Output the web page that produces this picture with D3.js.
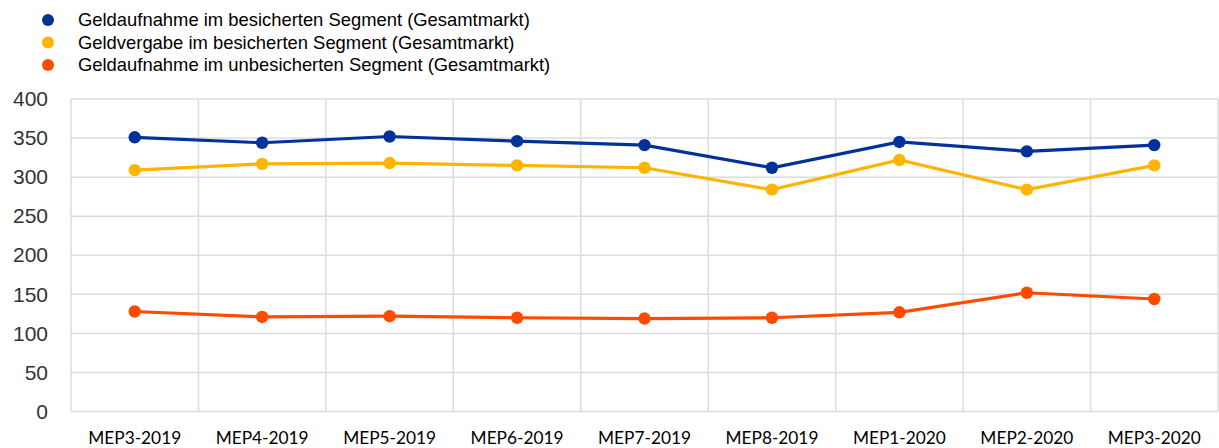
<!DOCTYPE html>
<html>
<head>
<meta charset="utf-8">
<script src="https://cdn.jsdelivr.net/npm/d3@7"></script>
<style>
  body { margin: 0; background: #fff; }
  svg { display: block; }
</style>
</head>
<body>
<script>
var width = 1219;
var height = 448;
var margin = {top: 99, right: 1, bottom: 36.5, left: 71};

// categories (x axis)
var categories = ['MEP3-2019', 'MEP4-2019', 'MEP5-2019', 'MEP6-2019', 'MEP7-2019',
                  'MEP8-2019', 'MEP1-2020', 'MEP2-2020', 'MEP3-2020'];

// series values
var securedBorrowing = [351, 344, 352, 346, 341, 312, 345, 333, 341];
var securedLending   = [309, 317, 318, 315, 312, 284, 322, 284, 315];
var unsecuredBorrowing = [128, 121, 122, 120, 119, 120, 127, 152, 144];

var seriesNames = ['Geldaufnahme im besicherten Segment (Gesamtmarkt)',
                   'Geldvergabe im besicherten Segment (Gesamtmarkt)',
                   'Geldaufnahme im unbesicherten Segment (Gesamtmarkt)'];
var seriesColors = ['#003299', '#ffb400', '#ff4b00'];

var yTicks = [0, 50, 100, 150, 200, 250, 300, 350, 400];

var series = [securedBorrowing, securedLending, unsecuredBorrowing];

var svg = d3.select('body')
  .append('svg')
  .attr('width', width)
  .attr('height', height);

var xRange = d3.scaleBand().domain(categories).range([margin.left, width - margin.right]);
var yRange = d3.scaleLinear().domain([0, 400]).range([height - margin.bottom, margin.top]);

// griglia orizzontale
svg.append('g')
  .selectAll('line')
  .data(yTicks)
  .enter()
  .append('line')
  .attr('x1', margin.left)
  .attr('x2', width - margin.right)
  .attr('y1', d => yRange(d))
  .attr('y2', d => yRange(d))
  .style('stroke', '#dcdcdc')
  .style('stroke-width', 1.5);

// griglia verticale
var edges = categories.map(c => xRange(c)).concat([width - margin.right]);
svg.append('g')
  .selectAll('line')
  .data(edges)
  .enter()
  .append('line')
  .attr('x1', d => d)
  .attr('x2', d => d)
  .attr('y1', margin.top)
  .attr('y2', height - margin.bottom)
  .style('stroke', '#dcdcdc')
  .style('stroke-width', 1.5);

// asse y
var yAxis = svg.append('g')
  .attr('transform', 'translate(' + (margin.left - 23) + ',0)')
  .call(d3.axisLeft(yRange).tickValues(yTicks).tickSize(0).tickPadding(0));
yAxis.select('.domain').remove();
yAxis.selectAll('text')
  .style('font-family', 'Arial, "Liberation Sans", sans-serif')
  .style('font-size', '21px')
  .style('fill', '#333');

// asse x
var xAxis = svg.append('g')
  .attr('transform', 'translate(0,' + (height - margin.bottom) + ')')
  .call(d3.axisBottom(xRange).tickSize(0).tickPadding(20));
xAxis.select('.domain').remove();
xAxis.selectAll('text')
  .style('font-family', 'Lato, "Open Sans", sans-serif')
  .style('font-size', '17.3px')
  .style('fill', '#000');

var line = d3.line()
  .x((d, i) => xRange(categories[i]) + xRange.bandwidth() / 2)
  .y(d => yRange(d));

series.forEach(function (values, s) {
  svg.append('path')
    .datum(values)
    .attr('d', line)
    .style('fill', 'none')
    .style('stroke', seriesColors[s])
    .style('stroke-width', 3.2);

  svg.append('g')
    .selectAll('circle')
    .data(values)
    .enter()
    .append('circle')
    .attr('cx', (d, i) => xRange(categories[i]) + xRange.bandwidth() / 2)
    .attr('cy', d => yRange(d))
    .attr('r', 6.2)
    .style('fill', seriesColors[s]);
});

// legenda
var legend = svg.append('g')
  .selectAll('g')
  .data(seriesNames)
  .enter()
  .append('g')
  .attr('transform', (d, i) => 'translate(48,' + (20 + i * 22.5) + ')');

legend.append('circle')
  .attr('r', 6)
  .style('fill', (d, i) => seriesColors[i]);

legend.append('text')
  .attr('x', 30)
  .attr('dy', '0.35em')
  .text(d => d)
  .style('font-family', 'Arial, "Liberation Sans", sans-serif')
  .style('font-size', '18.4px')
  .style('fill', '#000');
</script>
</body>
</html>
